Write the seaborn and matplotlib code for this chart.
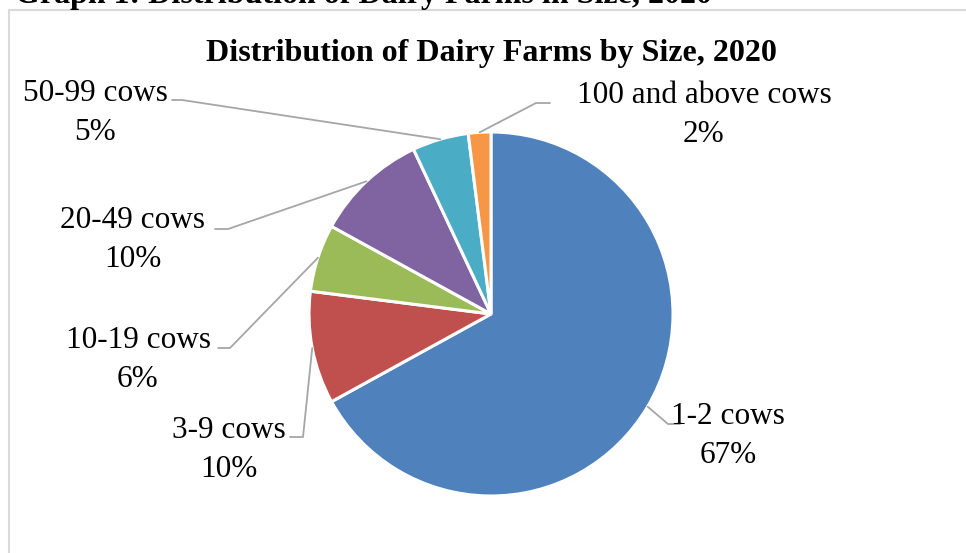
import numpy as np
import matplotlib
matplotlib.use("Agg")
import matplotlib.pyplot as plt
import seaborn as sns

categories = ["1-2 cows", "3-9 cows", "10-19 cows", "20-49 cows", "50-99 cows", "100 and above cows"]
values = [67, 10, 6, 10, 5, 2]
pct_labels = ["67%", "10%", "6%", "10%", "5%", "2%"]
colors = ["#4F81BD", "#C0504D", "#9BBB59", "#8064A2", "#4BACC6", "#F79646"]

# label layout (pixel coords, y from top): text centre, elbow, line end
label_text_xy = [(728, 436), (229, 450), (138, 360), (133, 240), (95, 113), (704, 115)]
elbow_xy = [(668, 424), (303, 437), (230, 348), (228, 229), (182, 100), (536, 103)]
end_xy = [(680, 424), (290, 437), (218, 348), (215, 229), (172, 100), (550, 103)]

sns.set_theme(style="white")
plt.rcParams['font.family'] = ['Liberation Serif', 'DejaVu Serif']

W, H = 966, 553
fig = plt.figure(figsize=(W / 100, H / 100), dpi=100)
ax = fig.add_axes([0, 0, 1, 1])

cx, cy, R = 491, H - 314, 182
ax.pie(values, colors=colors, startangle=90, counterclock=False,
       center=(cx, cy), radius=R, frame=True,
       wedgeprops=dict(edgecolor='white', linewidth=2.2))
ax.set_xlim(0, W)
ax.set_ylim(0, H)
ax.set_aspect('equal')
ax.axis('off')

# border of chart area
ax.plot([9, 9], [H - 10, 0], color='#D9D9D9', lw=1.5, clip_on=False)
ax.plot([9, W], [H - 10, H - 10], color='#D9D9D9', lw=1.5, clip_on=False)

# leader lines and labels
total = sum(values)
cum = 0
for i, v in enumerate(values):
    mid = (cum + v / 2) / total
    cum += v
    ang = np.deg2rad(90 - mid * 360)
    px, py = cx + R * np.cos(ang), cy + R * np.sin(ang)
    ex, ey = elbow_xy[i]
    lx, ly = end_xy[i]
    ax.plot([px, ex, lx], [py, H - ey, H - ly], color='#A6A6A6', lw=1.3)
    tx, ty = label_text_xy[i]
    ax.text(tx, H - ty, f"{categories[i]}\n{pct_labels[i]}", ha='center', va='center',
            fontsize=22.5, color='black', linespacing=1.42)

ax.text(491, H - 54, "Distribution of Dairy Farms by Size, 2020", ha='center', va='center',
        fontsize=23, fontweight='bold', color='black')

fig.text(15 / W, 1 - 3 / H, "Graph 1: Distribution of Dairy Farms in Size, 2020", ha='left',
         va='baseline', fontsize=23, fontweight='bold', color='black')

fig.savefig("out.png", dpi=100)
